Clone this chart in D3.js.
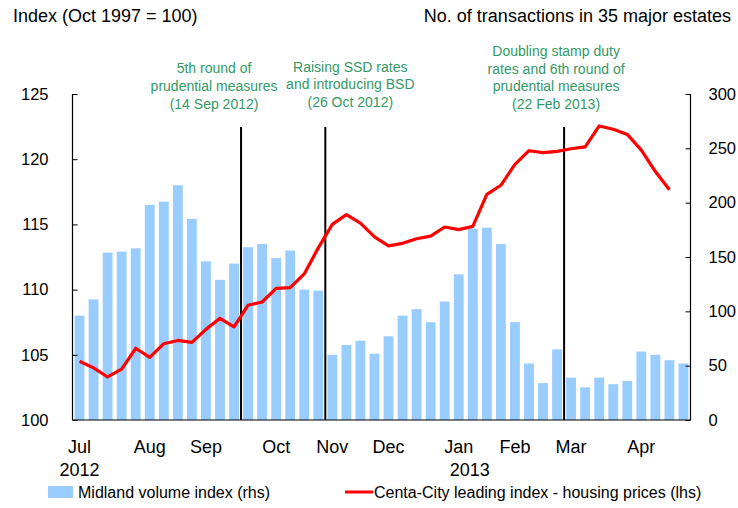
<!DOCTYPE html>
<html>
<head>
<meta charset="utf-8">
<script src="https://cdn.jsdelivr.net/npm/d3@7"></script>
<style>
  body { margin: 0; background: #fff; }
  text { font-family: Arial, "Liberation Sans", sans-serif; fill: #000; }
</style>
</head>
<body>
<svg width="738" height="508"></svg>
<script>

// weekly readings, week ending on Sunday
var weeks = [
    "2012-07-01", "2012-07-08", "2012-07-15", "2012-07-22", "2012-07-29",
    "2012-08-05", "2012-08-12", "2012-08-19", "2012-08-26",
    "2012-09-02", "2012-09-09", "2012-09-16", "2012-09-23", "2012-09-30",
    "2012-10-07", "2012-10-14", "2012-10-21", "2012-10-28",
    "2012-11-04", "2012-11-11", "2012-11-18", "2012-11-25",
    "2012-12-02", "2012-12-09", "2012-12-16", "2012-12-23", "2012-12-30",
    "2013-01-06", "2013-01-13", "2013-01-20", "2013-01-27",
    "2013-02-03", "2013-02-10", "2013-02-17", "2013-02-24",
    "2013-03-03", "2013-03-10", "2013-03-17", "2013-03-24", "2013-03-31",
    "2013-04-07", "2013-04-14", "2013-04-21", "2013-04-28"
];

// Midland volume index (rhs)
var volume = [
    96, 111, 154, 155, 158,
    198, 201, 216, 185,
    146, 129, 144, 159, 162,
    149, 156, 120, 119,
    60, 69, 73, 61,
    77, 96, 102, 90, 109,
    134, 176, 177, 162,
    90, 52, 34, 65,
    39, 30, 39, 33, 36,
    63, 60, 55, 52
];

// Centa-City leading index (lhs), no reading yet for the last week
var centaCity = [
    104.5, 104.0, 103.3, 103.9, 105.5,
    104.8, 105.85, 106.1, 105.95,
    106.95, 107.8, 107.15, 108.8, 109.05,
    110.1, 110.15, 111.2, 113.2,
    115.0, 115.75, 115.1, 114.05,
    113.35, 113.55, 113.9, 114.1, 114.8,
    114.6, 114.85, 117.3, 118.0,
    119.6, 120.65, 120.5, 120.6,
    120.8, 120.95, 122.55, 122.3, 121.9,
    120.7, 119.05, 117.65, null
];

var monthLabels = ["Jul", "Aug", "Sep", "Oct", "Nov", "Dec", "Jan", "Feb", "Mar", "Apr"];
var monthWeeks = ["2012-07-01", "2012-08-05", "2012-09-02", "2012-10-07", "2012-11-04",
                  "2012-12-02", "2013-01-06", "2013-02-03", "2013-03-03", "2013-04-07"];
var yearLabels = ["2012", "2013"];
var yearWeeks = ["2012-07-01", "2013-01-06"];

var leftTicks = [100, 105, 110, 115, 120, 125];
var rightTicks = [0, 50, 100, 150, 200, 250, 300];

// policy measures, drawn at the end of the week they fell in
var eventWeeks = ["2012-09-16", "2012-10-28", "2013-02-24"];
var eventNotes = [
    ["5th round of", "prudential measures", "(14 Sep 2012)"],
    ["Raising SSD rates", "and introducing BSD", "(26 Oct 2012)"],
    ["Doubling stamp duty", "rates and 6th round of", "prudential measures", "(22 Feb 2013)"]
];

var legendLabels = ["Midland volume index (rhs)", "Centa-City leading index - housing prices (lhs)"];

function drawChart () {

    var svg = d3.select("svg");

    var plotLeft = 72.5, plotRight = 690.5, plotTop = 94, plotBottom = 420;
    var barColour = "#99ccff",
        lineColour = "#ff0000",
        noteColour = "#339966";

    var x = d3.scaleBand()
        .domain(weeks)
        .range([plotLeft, plotRight])
        .paddingInner(0.3)
        .paddingOuter(0.15);

    var yLeft = d3.scaleLinear().domain([100, 125]).range([plotBottom, plotTop]);
    var yRight = d3.scaleLinear().domain([0, 300]).range([plotBottom, plotTop]);

    //bars for the volume index
    svg.append("g")
        .selectAll("rect")
        .data(volume)
        .enter().append("rect")
        .attr("x", (d, i) => x(weeks[i]))
        .attr("width", x.bandwidth())
        .attr("y", d => yRight(d))
        .attr("height", d => yRight(0) - yRight(d))
        .attr("fill", barColour);

    //vertical lines for the measures
    var gap = x.step() * x.paddingInner() / 2;
    var eventX = eventWeeks.map(w => x(w) + x.bandwidth() + gap);

    svg.append("g")
        .selectAll("line")
        .data(eventX)
        .enter().append("line")
        .attr("x1", d => d).attr("x2", d => d)
        .attr("y1", 127).attr("y2", plotBottom)
        .attr("stroke", "#000")
        .attr("stroke-width", 2);

    //price line
    var line = d3.line()
        .defined(d => d != null)
        .x((d, i) => x(weeks[i]) + x.bandwidth() / 2)
        .y(d => yLeft(d));

    svg.append("path")
        .datum(centaCity)
        .attr("d", line)
        .attr("fill", "none")
        .attr("stroke", lineColour)
        .attr("stroke-width", 3.2)
        .attr("stroke-linejoin", "round");

    //axes
    var leftAxis = d3.axisLeft(yLeft).tickValues(leftTicks).tickSize(-5).tickPadding(24);
    var rightAxis = d3.axisRight(yRight).tickValues(rightTicks).tickSize(-5).tickPadding(18);

    var gl = svg.append("g")
        .attr("transform", "translate(" + plotLeft + ",0)")
        .call(leftAxis);
    var gr = svg.append("g")
        .attr("transform", "translate(" + plotRight + ",0)")
        .call(rightAxis);

    [gl, gr].forEach(g => {
        g.select(".domain").remove();
        g.selectAll(".tick line").attr("stroke", "#000");
        g.selectAll("text").style("font-size", "16.5px").attr("fill", "#000");
    });

    svg.append("line")
        .attr("x1", plotLeft).attr("x2", plotLeft).attr("y1", plotTop).attr("y2", plotBottom)
        .attr("stroke", "#000").attr("stroke-width", 1.2);
    svg.append("line")
        .attr("x1", plotRight).attr("x2", plotRight).attr("y1", plotTop).attr("y2", plotBottom)
        .attr("stroke", "#000").attr("stroke-width", 1.2);
    svg.append("line")
        .attr("x1", plotLeft).attr("x2", plotRight).attr("y1", plotBottom).attr("y2", plotBottom)
        .attr("stroke", "#000").attr("stroke-width", 1.2);

    //month and year labels
    svg.append("g")
        .selectAll("text")
        .data(monthLabels)
        .enter().append("text")
        .attr("x", (d, i) => x(monthWeeks[i]) + x.bandwidth() / 2)
        .attr("y", 453)
        .attr("text-anchor", "middle")
        .style("font-size", "18px")
        .text(d => d);

    var yearDx = [0, 11];
    svg.append("g")
        .selectAll("text")
        .data(yearLabels)
        .enter().append("text")
        .attr("x", (d, i) => x(yearWeeks[i]) + x.bandwidth() / 2 + yearDx[i])
        .attr("y", 476)
        .attr("text-anchor", "middle")
        .style("font-size", "18px")
        .text(d => d);

    //axis titles
    svg.append("text")
        .attr("x", 13).attr("y", 22)
        .style("font-size", "18px")
        .text("Index (Oct 1997 = 100)");
    svg.append("text")
        .attr("x", 731).attr("y", 22)
        .attr("text-anchor", "end")
        .style("font-size", "18px")
        .text("No. of transactions in 35 major estates");

    //notes for the measures
    var noteDx = [-27, 25, -8];
    var noteBase = [108.5, 107, 109];
    eventNotes.forEach((lines, k) => {
        var t = svg.append("text")
            .attr("text-anchor", "middle")
            .style("font-size", "14px")
            .style("fill", noteColour);
        lines.forEach((s, j) => {
            t.append("tspan")
                .attr("x", eventX[k] + noteDx[k])
                .attr("y", noteBase[k] - (lines.length - 1 - j) * 17.6)
                .style("fill", noteColour)
                .text(s);
        });
    });

    //legend
    svg.append("rect")
        .attr("x", 48).attr("y", 486).attr("width", 25).attr("height", 12)
        .attr("fill", barColour);
    svg.append("text")
        .attr("x", 78).attr("y", 498)
        .style("font-size", "16px")
        .text(legendLabels[0]);
    svg.append("line")
        .attr("x1", 345).attr("x2", 373).attr("y1", 492).attr("y2", 492)
        .attr("stroke", lineColour).attr("stroke-width", 3);
    svg.append("text")
        .attr("x", 374).attr("y", 498)
        .style("font-size", "16px")
        .text(legendLabels[1]);
}

drawChart();

</script>
</body>
</html>
